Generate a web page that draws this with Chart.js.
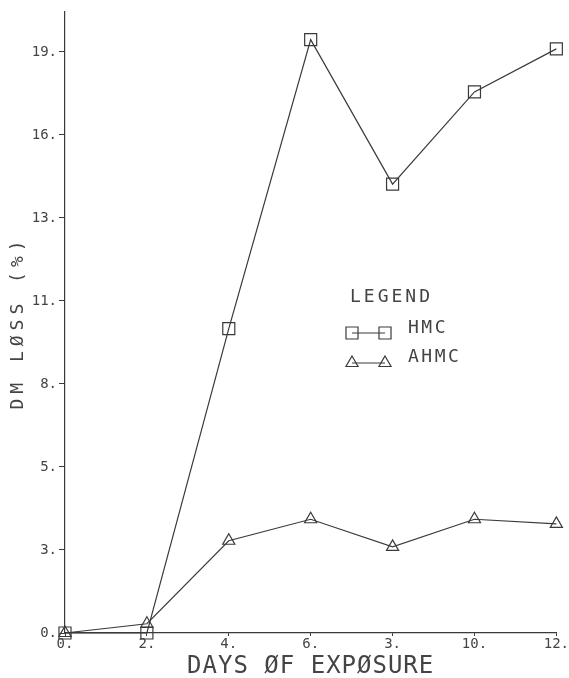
<!DOCTYPE html>
<html>
<head>
<meta charset="utf-8">
<script src="https://cdn.jsdelivr.net/npm/chart.js@4/dist/chart.umd.min.js"></script>
<style>
  html, body { margin: 0; padding: 0; background: #fff; }
</style>
</head>
<body>
<canvas id="dmloss" width="569" height="678"></canvas>
<script>
const days = [0, 2, 4, 6, 8, 10, 12];
const hmc = [0, 0, 9.9, 19.3, 14.6, 17.6, 19.0];
const ahmc = [0, 0.3, 3.0, 3.7, 2.8, 3.7, 3.55];
const xTickLabels = ['0.', '2.', '4.', '6.', '3.', '10.', '12.'];
const yTickValues = [0, 2.7, 5.4, 8.1, 10.8, 13.5, 16.2, 18.9];
const yTickLabels = ['0.', '3.', '5.', '8.', '11.', '13.', '16.', '19.'];

const ink = '#3a3a3a';
const textInk = '#444';
const mono = "'DejaVu Sans Mono', monospace";

// axis titles + legend, drawn like the plotter did
const plotterText = {
  id: 'plotterText',
  afterDraw(chart) {
    const c = chart.ctx, a = chart.chartArea;
    c.save();
    c.fillStyle = textInk;
    c.strokeStyle = ink;
    c.textBaseline = 'middle';

    c.textAlign = 'center';
    c.font = '24px ' + mono;
    c.letterSpacing = '1px';
    c.fillText('DAYS ØF EXPØSURE', (a.left + a.right) / 2, 667);

    c.save();
    c.translate(18, (a.top + a.bottom) / 2);
    c.rotate(-Math.PI / 2);
    c.font = '18px ' + mono;
    c.letterSpacing = '5px';
    c.fillText('DM LØSS (%)', 0, 0);
    c.restore();

    // legend
    c.textAlign = 'left';
    c.font = '18px ' + mono;
    c.letterSpacing = '3px';
    c.fillText('LEGEND', 350, 297);
    c.letterSpacing = '2.5px';
    const rows = [{ y: 333, ty: 328 }, { y: 363, ty: 357 }];
    chart.data.datasets.forEach((ds, i) => {
      const r = rows[i];
      c.lineWidth = 1.2;
      c.beginPath();
      c.moveTo(352, r.y);
      c.lineTo(385, r.y);
      c.stroke();
      c.fillStyle = 'rgba(0,0,0,0)';
      [352, 385].forEach(px => {
        Chart.helpers.drawPoint(c, {
          pointStyle: ds.pointStyle, radius: ds.pointRadius,
          rotation: 0, borderWidth: 1.2
        }, px, r.y);
      });
      c.fillStyle = textInk;
      c.fillText(ds.label, 408, r.ty);
    });
    c.restore();
  }
};

new Chart(document.getElementById('dmloss').getContext('2d'), {
  type: 'line',
  data: {
    datasets: [{
      label: 'HMC',
      data: days.map((d, i) => ({ x: d, y: hmc[i] })),
      borderColor: ink,
      borderWidth: 1.2,
      pointStyle: 'rect',
      pointRadius: 8.5,
      pointBorderWidth: 1.2,
      pointBorderColor: ink,
      pointBackgroundColor: 'rgba(0,0,0,0)',
      tension: 0,
      clip: false
    },
    {
      label: 'AHMC',
      data: days.map((d, i) => ({ x: d, y: ahmc[i] })),
      borderColor: ink,
      borderWidth: 1.2,
      pointStyle: 'triangle',
      pointRadius: 7,
      pointBorderWidth: 1.2,
      pointBorderColor: ink,
      pointBackgroundColor: 'rgba(0,0,0,0)',
      tension: 0,
      clip: false
    }]
  },
  options: {
    responsive: false,
    devicePixelRatio: 1,
    animation: false,
    layout: { padding: { top: 12, right: 12, left: 0, bottom: 0 } },
    scales: {
      x: {
        type: 'linear',
        min: 0,
        max: 12,
        afterBuildTicks: s => { s.ticks = days.map(v => ({ value: v })); },
        afterFit: s => { s.height = 45; },
        border: { color: ink, width: 1.2 },
        grid: { drawOnChartArea: false, tickLength: 3, color: ink },
        ticks: {
          color: textInk,
          font: { family: mono, size: 14 },
          padding: 0,
          maxRotation: 0,
          autoSkip: false,
          callback: (v, i) => xTickLabels[i]
        }
      },
      y: {
        min: 0,
        max: 20.2,
        afterBuildTicks: s => { s.ticks = yTickValues.map(v => ({ value: v })); },
        afterFit: s => { s.width = 65; },
        border: { color: ink, width: 1.2 },
        grid: { drawOnChartArea: false, tickLength: 6, color: ink },
        ticks: {
          color: textInk,
          font: { family: mono, size: 14 },
          padding: 2,
          autoSkip: false,
          callback: (v, i) => yTickLabels[i]
        }
      }
    },
    plugins: {
      legend: { display: false },
      tooltip: { enabled: false }
    }
  },
  plugins: [plotterText]
});
</script>
</body>
</html>
